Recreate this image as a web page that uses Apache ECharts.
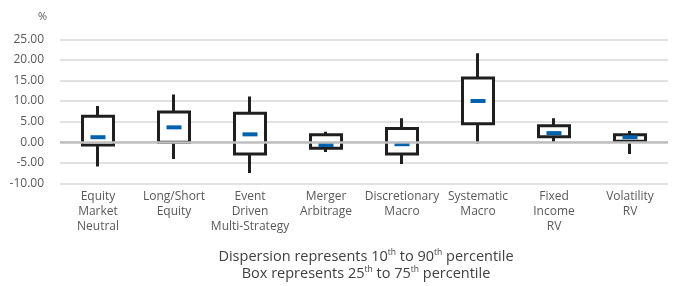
<!DOCTYPE html>
<html lang="en">
<head>
    <meta charset="UTF-8">
    <title>Dispersion</title>
    <script src="https://cdn.jsdelivr.net/npm/echarts@6/dist/echarts.min.js"></script>
    <style>
        html, body { margin: 0; padding: 0; background: #fff; }
    </style>
</head>
<body>
<div id="main" style="width:673px;height:286px;"></div>
<script type="text/javascript">
    // strategy names (line breaks as in the chart)
    var categories = ['Equity\nMarket\nNeutral', 'Long/Short\nEquity', 'Event\nDriven\nMulti-Strategy',
        'Merger\nArbitrage', 'Discretionary\nMacro', 'Systematic\nMacro', 'Fixed\nIncome\nRV', 'Volatility\nRV'];
    // percentiles, in %
    var p10 = [-5.9, -4.1, -7.5, -2.4, -5.3, -0.3, 0.0, -2.9];
    var p25 = [-0.7, 0.0, -2.9, -1.5, -2.9, 4.5, 1.3, 0.2];
    var median = [1.2, 3.6, 1.9, -0.7, -0.5, 10.0, 2.2, 1.2];
    var p75 = [6.3, 7.3, 7.0, 1.8, 3.3, 15.6, 4.0, 1.8];
    var p90 = [8.8, 11.6, 11.1, 2.5, 5.8, 21.6, 5.8, 2.7];

    var myChart = echarts.init(document.getElementById('main'));

    // candlestick: [open, close, lowest, highest] -> box p25..p75, whiskers p10..p90
    var boxes = [];
    for (var i = 0; i < categories.length; i++) {
        boxes.push([p25[i], p75[i], p10[i], p90[i]]);
    }

    var font = '"Open Sans", Lato, sans-serif';

    var option = {
        animation: false,
        textStyle: { fontFamily: font },
        title: [{
            text: '%',
            left: 33,
            top: 6,
            textStyle: { fontSize: 11, fontWeight: 'normal', color: '#595959', fontFamily: font }
        }, {
            text: '{a|Dispersion represents 10}{s|th}{a| to 90}{s|th}{a| percentile}\n' +
                  '{a|Box represents 25}{s|th}{a| to 75}{s|th}{a| percentile}',
            left: 361,
            top: 243,
            textAlign: 'center',
            textStyle: {
                fontWeight: 'normal',
                rich: {
                    a: { fontSize: 14.5, fontWeight: 'normal', color: '#404040', fontFamily: font, lineHeight: 17 },
                    s: { fontSize: 8.5, fontWeight: 'normal', color: '#404040', fontFamily: font, lineHeight: 17, padding: [0, 0, 7, 0] }
                }
            }
        }],
        grid: { left: 60, right: 5, top: 39.3, bottom: 102.7 },
        xAxis: {
            type: 'category',
            data: categories,
            axisLine: { show: false },
            axisTick: { show: false },
            axisLabel: { color: '#595959', fontSize: 12, lineHeight: 15, margin: 6, interval: 0 }
        },
        yAxis: {
            type: 'value',
            min: -10,
            max: 25,
            interval: 5,
            axisLine: { show: false },
            axisTick: { show: false },
            axisLabel: {
                color: '#595959', fontSize: 12, margin: 16,
                formatter: function (v) { return v.toFixed(2); }
            },
            splitLine: { lineStyle: { color: '#d9d9d9', width: 1.5 } }
        },
        series: [{
            type: 'line',
            data: [],
            z: 1,
            markLine: {
                silent: true,
                symbol: 'none',
                label: { show: false },
                lineStyle: { color: '#bfbfbf', width: 2.5, type: 'solid' },
                data: [{ yAxis: 0 }]
            }
        }, {
            type: 'candlestick',
            data: boxes,
            barWidth: 32,
            z: 2,
            itemStyle: {
                color: '#ffffff',
                color0: '#ffffff',
                borderColor: '#1f1f1f',
                borderColor0: '#1f1f1f',
                borderWidth: 3
            }
        }, {
            type: 'scatter',
            data: median,
            symbol: 'rect',
            symbolSize: [15, 4],
            z: 3,
            itemStyle: { color: '#0061ad', opacity: 1 }
        }]
    };
    myChart.setOption(option);
</script>
</body>
</html>
